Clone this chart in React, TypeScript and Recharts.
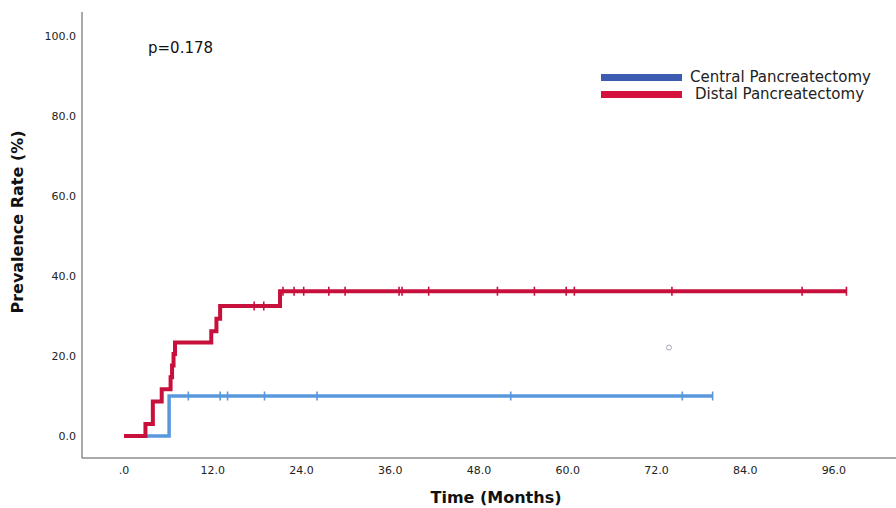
import React from 'react'
import { ComposedChart, Line, Scatter, XAxis, YAxis, Legend } from 'recharts'

// Kaplan-Meier style cumulative prevalence
const centralEventMonths = [0, 6.1]
const centralRates = [0, 10.0]
const centralCensoredMonths = [8.7, 13.0, 14.0, 19.0, 26.1, 52.3, 75.5, 79.6]

const distalEventMonths = [0, 2.9, 3.9, 5.1, 6.3, 6.5, 6.7, 6.9, 11.8, 12.5, 13.0, 21.1]
const distalRates = [0, 3.0, 8.6, 11.7, 14.7, 17.6, 20.5, 23.4, 26.2, 29.3, 32.5, 36.2]
const distalCensoredMonths = [
  17.6, 18.9, 21.5, 23.0, 24.3, 27.7, 29.9, 37.2, 37.6, 41.2, 50.5, 55.5, 59.8, 60.9, 74.1, 91.7, 97.7
]

const strayMonths = [73.7]
const strayRates = [22.1]

const xTicks = [0, 12, 24, 36, 48, 60, 72, 84, 96]
const yTicks = [0, 20, 40, 60, 80, 100]

const seriesNames = ['Central Pancreatectomy', 'Distal Pancreatectomy']
const pValueText = 'p=0.178'

const LINE_BLUE = '#5a98de'
const LINE_RED = '#c8103c'
const LEGEND_BLUE = '#3c5cb2'
const LEGEND_RED = '#d5123e'
const FONT = '"DejaVu Sans", Verdana, sans-serif'

interface StepPoint {
  t: number
  v: number
  censored: boolean
}

// merge event steps and censor marks; a censor sits on the current step level
function buildSteps(times: number[], rates: number[], censored: number[]): StepPoint[] {
  const pts: StepPoint[] = times.map((t, i) => ({ t, v: rates[i], censored: false }))
  censored.forEach((t) => {
    let v = rates[0]
    times.forEach((et, i) => {
      if (et <= t) v = rates[i]
    })
    pts.push({ t, v, censored: true })
  })
  return pts.sort((a, b) => a.t - b.t)
}

const centralData = buildSteps(centralEventMonths, centralRates, centralCensoredMonths)
const distalData = buildSteps(distalEventMonths, distalRates, distalCensoredMonths)
const strayData = strayMonths.map((t, i) => ({ t, v: strayRates[i] }))

const censorDot = (color: string) => (props: any) => {
  const { cx, cy, payload, index } = props
  if (!payload || !payload.censored) return <g key={`n-${index}`} />
  return (
    <line
      key={`c-${index}`}
      x1={cx}
      x2={cx}
      y1={cy - 4.5}
      y2={cy + 4.5}
      stroke={color}
      strokeWidth={1.6}
    />
  )
}

const renderLegend = () => (
  <div style={{ fontFamily: FONT, fontSize: 15, color: '#222', lineHeight: '17px' }}>
    {seriesNames.map((name, i) => (
      <div key={name} style={{ display: 'flex', alignItems: 'center', height: 17 }}>
        <div
          style={{
            width: 81,
            height: 7,
            background: i === 0 ? LEGEND_BLUE : LEGEND_RED,
            marginRight: i === 0 ? 8 : 13
          }}
        />
        <span>{name}</span>
      </div>
    ))}
  </div>
)

export default function App() {
  return (
    <div style={{ position: 'absolute', left: 0, top: 0, width: 896, height: 508, background: '#fff' }}>
      <ComposedChart width={896} height={508} margin={{ top: 12, right: 0, bottom: 0, left: 0 }}>
        <XAxis
          type="number"
          dataKey="t"
          domain={[-5.68, 104.4]}
          ticks={xTicks}
          allowDataOverflow
          height={50}
          tickLine={false}
          tickSize={4}
          tickMargin={4}
          axisLine={{ stroke: '#555', strokeWidth: 1 }}
          tick={{ fontSize: 11, fill: '#222', fontFamily: FONT }}
          tickFormatter={(v: number) => (v === 0 ? '.0' : v.toFixed(1))}
          label={() => (
            <text
              x={496}
              y={503}
              textAnchor="middle"
              fontFamily={FONT}
              fontWeight="bold"
              fontSize={16}
              fill="#111"
            >
              Time (Months)
            </text>
          )}
        />
        <YAxis
          type="number"
          dataKey="v"
          domain={[-5.5, 106]}
          ticks={yTicks}
          allowDataOverflow
          width={82}
          tickLine={false}
          tickSize={4}
          tickMargin={2}
          axisLine={{ stroke: '#555', strokeWidth: 1 }}
          tick={{ fontSize: 11, fill: '#222', fontFamily: FONT }}
          tickFormatter={(v: number) => v.toFixed(1)}
          label={() => (
            <text
              x={18}
              y={222}
              transform="rotate(-90 18 222)"
              textAnchor="middle"
              dominantBaseline="middle"
              fontFamily={FONT}
              fontWeight="bold"
              fontSize={16}
              fill="#111"
            >
              Prevalence Rate (%)
            </text>
          )}
        />
        <Legend
          verticalAlign="middle"
          align="center"
          layout="horizontal"
          content={renderLegend}
          wrapperStyle={{ top: 69, left: 601, width: 295 }}
        />
        <Line
          data={centralData}
          dataKey="v"
          type="stepAfter"
          stroke={LINE_BLUE}
          strokeWidth={3.5}
          dot={censorDot(LINE_BLUE)}
          activeDot={false}
          legendType="none"
          isAnimationActive={false}
        />
        <Line
          data={distalData}
          dataKey="v"
          type="stepAfter"
          stroke={LINE_RED}
          strokeWidth={4}
          dot={censorDot(LINE_RED)}
          activeDot={false}
          legendType="none"
          isAnimationActive={false}
        />
        <Scatter
          data={strayData}
          dataKey="v"
          fill="#fff"
          stroke="#a8acb8"
          strokeWidth={1}
          legendType="none"
          isAnimationActive={false}
          shape={(p: any) => (
            <circle cx={p.cx} cy={p.cy} r={2.5} fill="#fff" stroke="#a8acb8" strokeWidth={1} />
          )}
        />
      </ComposedChart>
      <div
        style={{
          position: 'absolute',
          left: 148,
          top: 39,
          fontFamily: FONT,
          fontSize: 15,
          color: '#111'
        }}
      >
        {pValueText}
      </div>
    </div>
  )
}
